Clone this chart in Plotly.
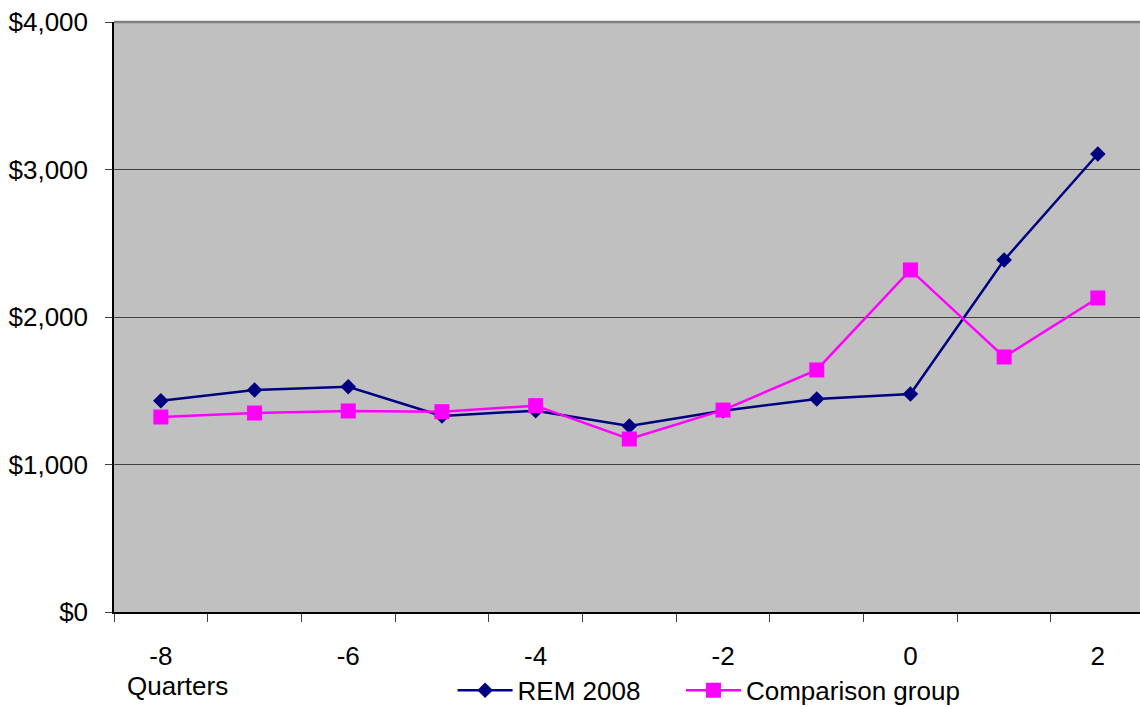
import plotly.graph_objects as go

quarters = [-8, -7, -6, -5, -4, -3, -2, -1, 0, 1, 2]
rem_2008 = [1432, 1505, 1527, 1329, 1365, 1261, 1365, 1444, 1478, 2386, 3105]
comparison = [1322, 1349, 1363, 1358, 1399, 1173, 1369, 1641, 2319, 1729, 2129]
x_tick_vals = [-8, -6, -4, -2, 0, 2]
x_tick_text = ["-8", "-6", "-4", "-2", "0", "2"]
y_tick_vals = [0, 1000, 2000, 3000, 4000]
y_tick_text = ["$0", "$1,000", "$2,000", "$3,000", "$4,000"]

FONT = "Liberation Sans, Arial, sans-serif"

fig = go.Figure()
fig.add_trace(go.Scatter(
    x=quarters, y=rem_2008, name="REM 2008", mode="lines+markers",
    line=dict(color="#000080", width=2.5),
    marker=dict(symbol="diamond", size=12, color="#000080"),
    legend="legend",
))
fig.add_trace(go.Scatter(
    x=quarters, y=comparison, name="Comparison group", mode="lines+markers",
    line=dict(color="#FF00FF", width=2.5),
    marker=dict(symbol="square", size=15, color="#FF00FF"),
    legend="legend2",
))

legend_common = dict(orientation="h", y=-0.093, xanchor="left", yanchor="top",
                     font=dict(size=26), bgcolor="rgba(0,0,0,0)", itemwidth=55)

fig.update_layout(
    width=1140, height=707,
    margin=dict(l=114, r=0, t=22, b=95, autoexpand=False),
    paper_bgcolor="white",
    plot_bgcolor="#C0C0C0",
    font=dict(family=FONT, size=26, color="black"),
    showlegend=True,
    legend=dict(x=0.33, **legend_common),
    legend2=dict(x=0.5526, **legend_common),
    xaxis=dict(
        range=[-8.5, 2.45], tickmode="array", tickvals=x_tick_vals, ticktext=x_tick_text,
        ticks="", showgrid=False, zeroline=False, automargin=False,
        showline=True, linecolor="black", linewidth=1.5,
        ticklabelstandoff=20,
        minor=dict(tickmode="linear", tick0=-8.5, dtick=1, ticks="outside",
                   ticklen=8, tickcolor="#404040", tickwidth=1, showgrid=False),
    ),
    yaxis=dict(
        range=[0, 4000], tickmode="array", tickvals=y_tick_vals, ticktext=y_tick_text,
        ticks="outside", ticklen=7, tickcolor="#404040", automargin=False,
        showgrid=True, gridcolor="#404040", gridwidth=1, zeroline=False,
        showline=True, linecolor="black", linewidth=1.5,
        ticklabelstandoff=12,
    ),
)

fig.add_shape(type="line", xref="paper", yref="paper", x0=0, x1=1, y0=1, y1=1,
              line=dict(color="#808080", width=2.5))
fig.add_annotation(text="Quarters", xref="paper", yref="paper",
                   x=(177 - 114) / 1026, y=-(686 - 612) / 590,
                   xanchor="center", yanchor="middle", showarrow=False,
                   font=dict(size=26))

fig.write_html("out.html")
